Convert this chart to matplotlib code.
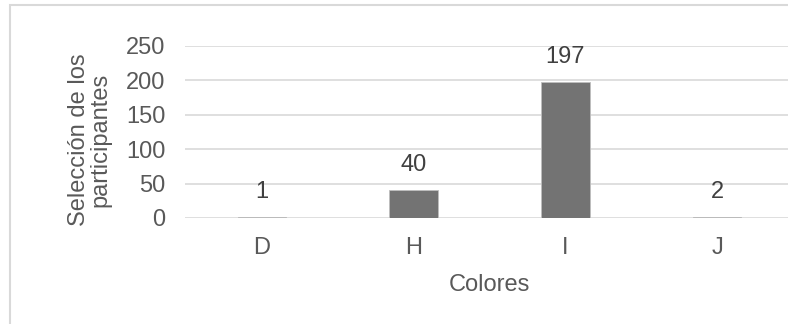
import matplotlib.pyplot as plt
from matplotlib.patches import Rectangle

# datos
colores = ['D', 'H', 'I', 'J']
seleccion = [1, 40, 197, 2]
y_ticks = [0, 50, 100, 150, 200, 250]

plt.rcParams['font.family'] = ['Liberation Sans', 'DejaVu Sans']

W, H = 788, 324
fig = plt.figure(figsize=(W / 100, H / 100), dpi=100)

# borde del grafico (recortado a la derecha y abajo)
fig.patches.append(Rectangle((9.5 / W, -0.1), 1.2, 1 - 5.5 / H + 0.1, transform=fig.transFigure,
                             fill=False, edgecolor='#d9d9d9', linewidth=1.5))

ax = fig.add_axes([185 / W, (H - 218) / H, (788 - 185) / W, (218 - 46) / H])
bars = ax.bar(range(len(colores)), seleccion, width=0.32, color='#737373',
              edgecolor='#bfbfbf', linewidth=0.6, zorder=3)

ax.set_xlim(-0.508, 3.467)
ax.set_ylim(0, 250)
ax.set_yticks(y_ticks)
ax.set_xticks(range(len(colores)))
ax.set_xticklabels(colores)
ax.yaxis.grid(True, color='#d9d9d9', linewidth=1.2, zorder=0)
ax.set_axisbelow(True)
for s in ax.spines.values():
    s.set_visible(False)
ax.tick_params(axis='both', length=0, labelsize=17, labelcolor='#595959')
ax.tick_params(axis='y', pad=14)
ax.tick_params(axis='x', pad=14)

# etiquetas de datos
for i, v in enumerate(seleccion):
    ax.annotate(str(v), (i, v), textcoords='offset points', xytext=(0, 18),
                ha='center', va='center', fontsize=17, color='#404040')

fig.text(489 / W, 1 - 285 / H, 'Colores', ha='center', va='center', fontsize=17, color='#595959')
fig.text(90 / W, 1 - 140 / H, 'Selección de los\nparticipantes', ha='center', va='center',
         rotation=90, fontsize=17, color='#595959', linespacing=0.95)

fig.savefig('out.png', dpi=100)
